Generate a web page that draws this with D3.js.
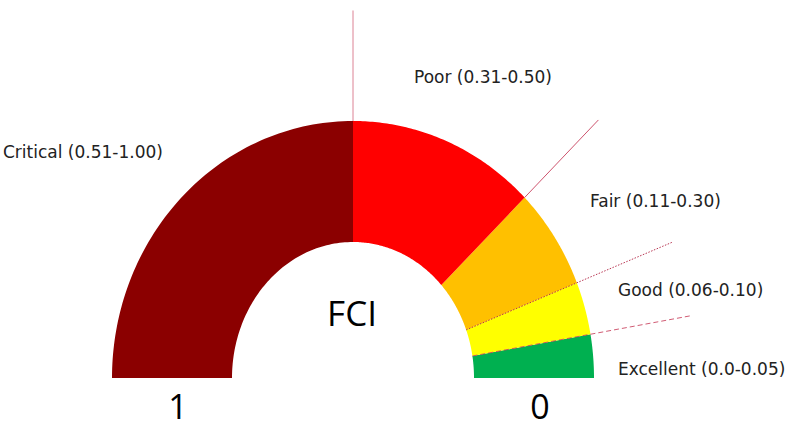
<!DOCTYPE html>
<html>
<head>
<meta charset="utf-8">
<script src="https://cdn.jsdelivr.net/npm/d3@7"></script>
<style>
  body { margin: 0; background: #fff; }
  svg { display: block; }
  .seg-label { font-family: "DejaVu Sans", Verdana, sans-serif; font-size: 17px; fill: #222; }
  .big { font-family: "Open Sans", sans-serif; fill: #000; }
</style>
</head>
<body>
<svg id="chart" width="788" height="424"></svg>
<script>
// gauge bands, from 0 (right) to 1 (left)
const categories = ["Excellent", "Good", "Fair", "Poor", "Critical"];
const ranges = ["0.0-0.05", "0.06-0.10", "0.11-0.30", "0.31-0.50", "0.51-1.00"];
const breaks = [0, 0.058, 0.128, 0.258, 0.5, 1];   // band edges as drawn
const colors = ["#00B050", "#FFFF00", "#FFC000", "#FF0000", "#8B0000"];
const endValues = [0, 1];
const endLabels = ["0", "1"];
const centerTitle = "FCI";

// layout
const cx = 353, cy = 378;
const outer = {rx: 241, ry: 257};
const inner = {rx: 121, ry: 136};
const labelAnchor = [[618, 375], [618, 296], [590, 207], [414, 83], [3, 158]];
const leaderStyle = [
  {from: "inner", dash: "5,3", color: "#c8405c", opacity: 0.85},
  {from: "inner", dash: "1.5,1.5", color: "#b02040", opacity: 0.9},
  {from: "outer", dash: null, color: "#c02848", opacity: 0.8},
  {from: "outer", dash: null, color: "#d05a72", opacity: 0.75},
];

const svg = d3.select('#chart');
const g = svg.append('g').attr('transform', `translate(${cx},${cy})`);

// value -> radial angle (0 = up, clockwise)
const angle = d3.scaleLinear().domain([0, 1]).range([Math.PI / 2, -Math.PI / 2]);

// radius of an ellipse along a radial angle
function ellR(a, e) {
  const s = Math.sin(a) / e.rx, c = Math.cos(a) / e.ry;
  return 1 / Math.sqrt(s * s + c * c);
}

const radial = d3.lineRadial().angle(d => d.a).radius(d => d.r);

function bandPath(v0, v1) {
  const n = 80;
  const pts = [];
  for (let i = 0; i <= n; i++) {
    const a = angle(v0 + (v1 - v0) * i / n);
    pts.push({a, r: ellR(a, outer)});
  }
  for (let i = n; i >= 0; i--) {
    const a = angle(v0 + (v1 - v0) * i / n);
    pts.push({a, r: ellR(a, inner)});
  }
  return radial(pts) + 'Z';
}

const bands = categories.map((c, i) => ({
  name: c, range: ranges[i], v0: breaks[i], v1: breaks[i + 1], color: colors[i]
}));

g.selectAll('path.band')
  .data(bands)
  .join('path')
  .attr('class', 'band')
  .attr('d', d => bandPath(d.v0, d.v1))
  .attr('fill', d => d.color);

// leader lines at upper edge of the first four bands
const leaders = bands.slice(0, 4).map((d, i) => ({v: d.v1, style: leaderStyle[i]}));
g.selectAll('line.leader')
  .data(leaders)
  .join('line')
  .attr('class', 'leader')
  .each(function(d) {
    const a = angle(d.v);
    const r0 = ellR(a, d.style.from === 'inner' ? inner : outer);
    const r1 = ellR(a, outer) * 1.43;
    d3.select(this)
      .attr('x1', r0 * Math.sin(a)).attr('y1', -r0 * Math.cos(a))
      .attr('x2', r1 * Math.sin(a)).attr('y2', -r1 * Math.cos(a));
  })
  .attr('stroke', d => d.style.color)
  .attr('stroke-opacity', d => d.style.opacity)
  .attr('stroke-width', 1)
  .attr('stroke-dasharray', d => d.style.dash);

// band labels
svg.selectAll('text.seg-label')
  .data(bands)
  .join('text')
  .attr('class', 'seg-label')
  .attr('x', (d, i) => labelAnchor[i][0])
  .attr('y', (d, i) => labelAnchor[i][1])
  .text(d => `${d.name} (${d.range})`);

// centre title
g.append('text')
  .attr('class', 'big')
  .attr('x', -1)
  .attr('y', -52)
  .attr('text-anchor', 'middle')
  .attr('font-size', 35)
  .text(centerTitle);

// 0 and 1 under the band ends
g.selectAll('text.end')
  .data(endValues)
  .join('text')
  .attr('class', 'big end')
  .attr('x', v => {
    const a = angle(v);
    return Math.sin(a) * (outer.rx + inner.rx) / 2 + (v === 0 ? 6 : 6);
  })
  .attr('y', 41)
  .attr('text-anchor', 'middle')
  .attr('font-size', 34)
  .text((v, i) => endLabels[i]);
</script>
</body>
</html>
